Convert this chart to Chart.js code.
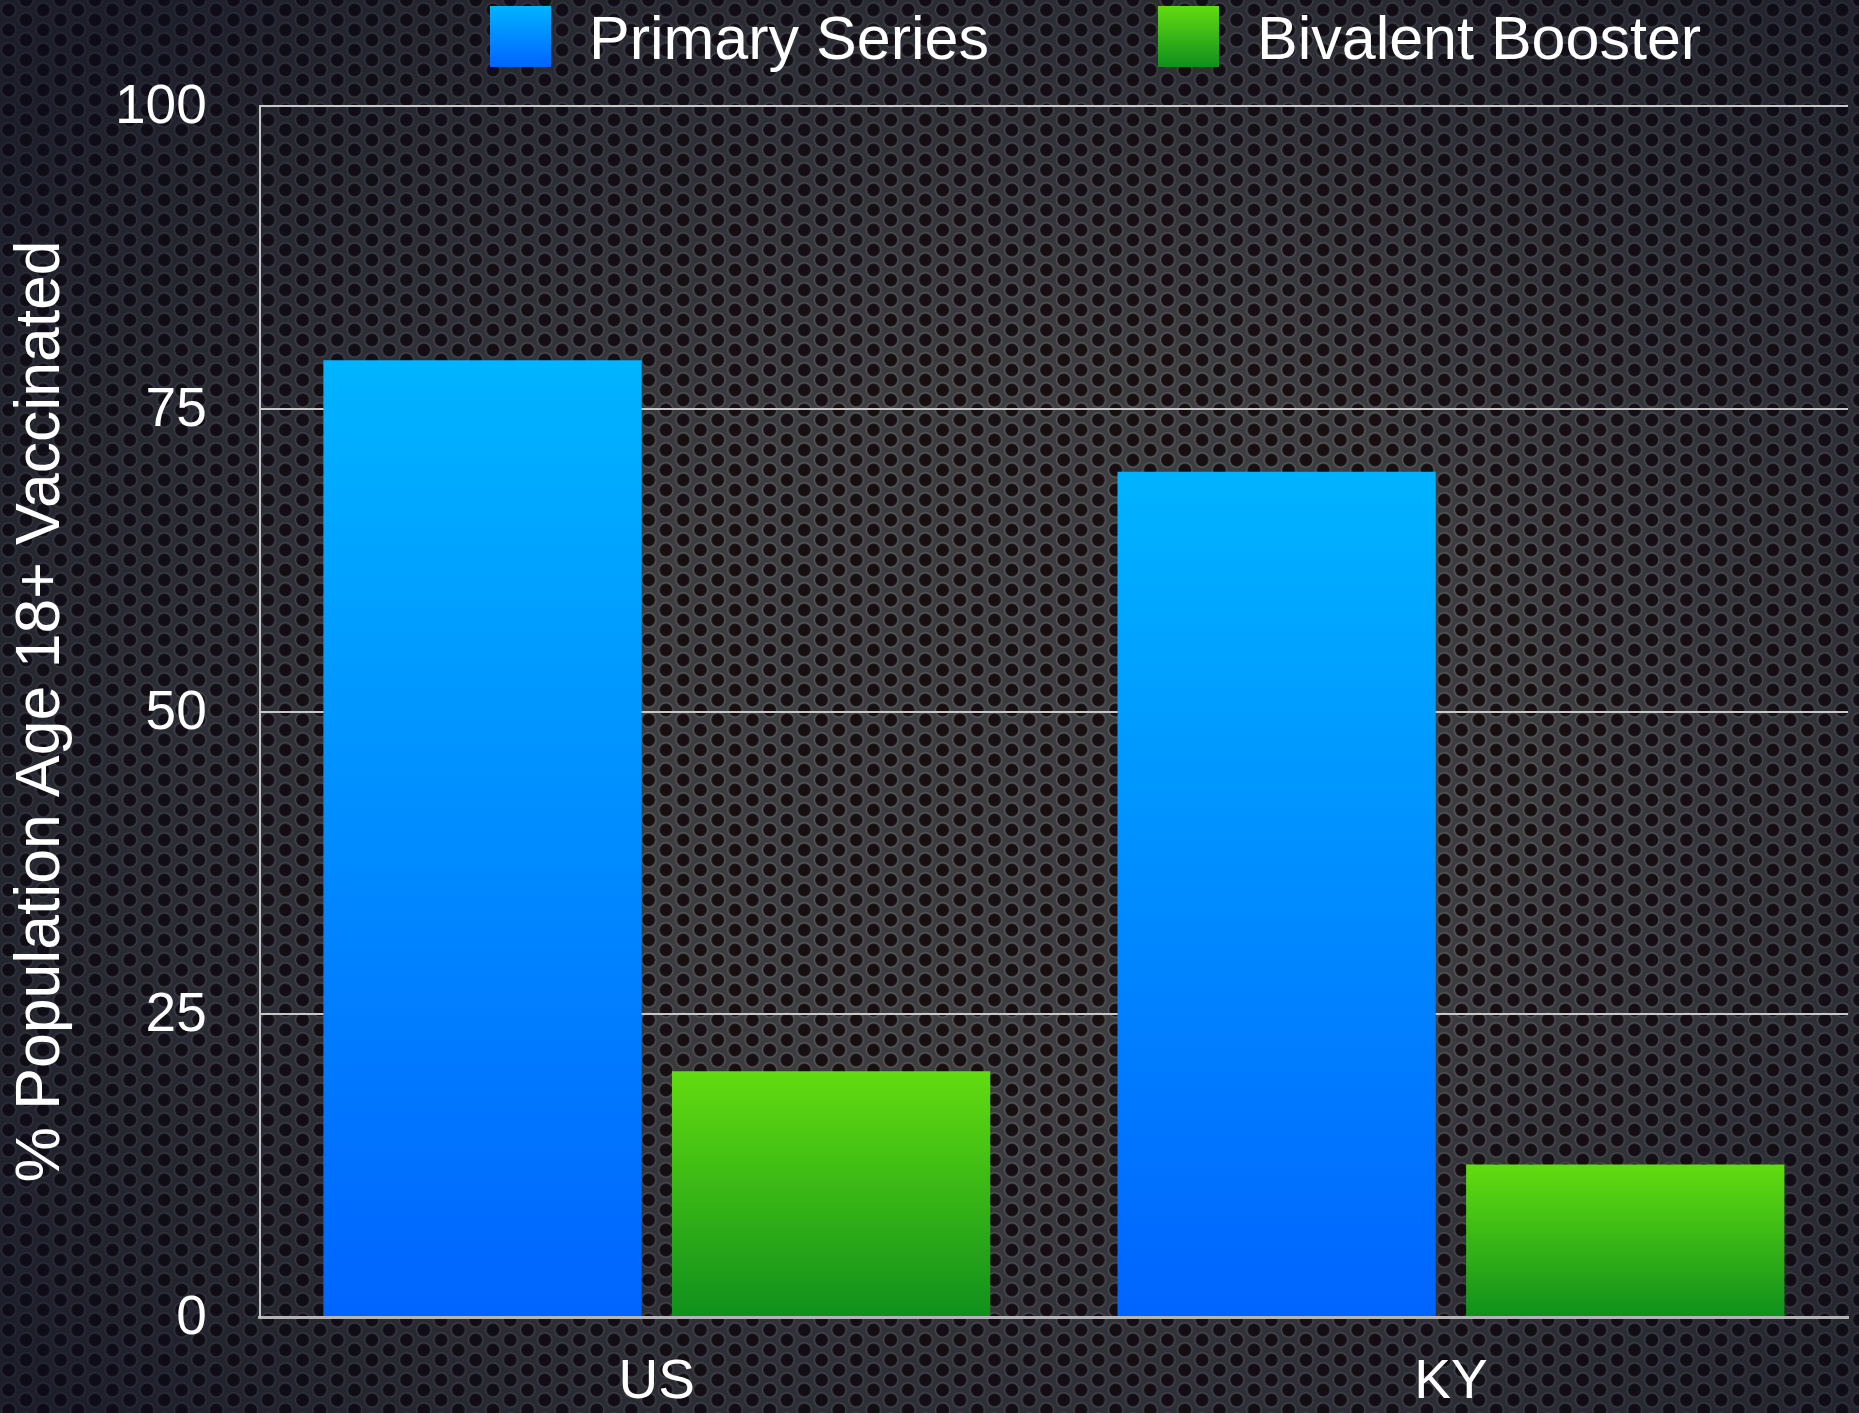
<!DOCTYPE html>
<html>
<head>
<meta charset="utf-8">
<script src="https://cdn.jsdelivr.net/npm/chart.js@4"></script>
<style>
    html, body {
        margin: 0;
        padding: 0;
        width: 1859px;
        height: 1413px;
        overflow: hidden;
    }
    body {
        background-color: #3c3d40;
        background-image:
            radial-gradient(ellipse 70% 75% at 58% 52%, rgba(8, 10, 28, 0) 35%, rgba(8, 10, 28, 0.62) 100%),
            radial-gradient(circle at 8.65px 10px, #170e10 0, #170e10 5.4px, #242022 6.1px, #5c5d61 7.1px, #46474a 8px, rgba(0, 0, 0, 0) 8.7px),
            radial-gradient(circle at 8.65px 10px, #170e10 0, #170e10 5.4px, #242022 6.1px, #5c5d61 7.1px, #46474a 8px, rgba(0, 0, 0, 0) 8.7px);
        background-size: 100% 100%, 34.6px 20px, 34.6px 20px;
        background-position: 0 0, 0 0, 17.3px 10px;
        font-family: "Liberation Sans", Arial, Helvetica, sans-serif;
    }
    #wrap {
        position: absolute;
        left: 0;
        top: 0;
        width: 1859px;
        height: 1413px;
    }
    #legend {
        position: absolute;
        top: 6px;
        left: 490px;
        display: flex;
        align-items: center;
        color: #fff;
        font-size: 61px;
        line-height: 61px;
    }
    .item {
        display: flex;
        align-items: center;
        margin-right: 169px;
        white-space: nowrap;
    }
    .item span:last-child {
        position: relative;
        top: 2px;
    }
    .box {
        width: 61px;
        height: 61px;
        margin-right: 38px;
    }
</style>
</head>
<body>
<div id="wrap"><canvas id="chart1"></canvas></div>
<div id="legend"></div>
<script>
const categories = ['US', 'KY'];
const seriesNames = ['Primary Series', 'Bivalent Booster'];
const primarySeries = [79.0, 69.8];
const bivalentBooster = [20.3, 12.6];
const yTicks = [0, 25, 50, 75, 100];
const topColors = ['#00b4ff', '#62dc10'];
const bottomColors = ['#0064ff', '#0f901c'];
const yTitle = '% Population Age 18+ Vaccinated';

const FONT = '"Liberation Sans", Arial, Helvetica, sans-serif';

function barGradient(top, bottom) {
    return (ctx) => {
        const chart = ctx.chart;
        const y = chart.scales.y;
        if (!chart.chartArea || !y || ctx.raw == null) {
            return bottom;
        }
        const yTop = y.getPixelForValue(ctx.raw);
        const yBase = y.getPixelForValue(0);
        const g = chart.ctx.createLinearGradient(0, yTop, 0, yBase);
        g.addColorStop(0, top);
        g.addColorStop(1, bottom);
        return g;
    };
}

function createBarChart(chartId) {
    const ctx = document.getElementById(chartId).getContext('2d');
    return new Chart(ctx, {
        type: 'bar',
        data: {
            labels: categories,
            datasets: [
                {
                    label: seriesNames[0],
                    data: primarySeries,
                    backgroundColor: barGradient(topColors[0], bottomColors[0]),
                    borderWidth: 0
                },
                {
                    label: seriesNames[1],
                    data: bivalentBooster,
                    backgroundColor: barGradient(topColors[1], bottomColors[1]),
                    borderWidth: 0
                }
            ]
        },
        options: {
            responsive: true,
            maintainAspectRatio: false,
            animation: false,
            categoryPercentage: 0.878,
            barPercentage: 0.913,
            layout: {
                padding: { top: 106, right: 11, bottom: 0, left: 0 }
            },
            plugins: {
                legend: { display: false },
                tooltip: { enabled: false }
            },
            scales: {
                x: {
                    grid: {
                        display: false,
                        drawTicks: true,
                        tickLength: 35,
                        tickColor: 'rgba(0,0,0,0)'
                    },
                    border: { display: true, color: '#b4b4b4', width: 3 },
                    ticks: {
                        color: '#ffffff',
                        padding: 3,
                        font: { family: FONT, size: 55, lineHeight: 1 }
                    }
                },
                y: {
                    min: 0,
                    max: 100,
                    afterBuildTicks: (axis) => {
                        axis.ticks = yTicks.map(v => ({ value: v }));
                    },
                    grid: {
                        color: '#c8c8c8',
                        lineWidth: 2,
                        drawTicks: true,
                        tickLength: 53,
                        tickColor: 'rgba(0,0,0,0)'
                    },
                    border: { display: true, color: '#c8c8c8', width: 2 },
                    ticks: {
                        color: '#ffffff',
                        padding: 0,
                        labelOffset: 2,
                        font: { family: FONT, size: 55 }
                    },
                    title: {
                        display: true,
                        text: yTitle,
                        color: '#ffffff',
                        font: { family: FONT, size: 62.5, lineHeight: 1.2 },
                        padding: { top: 4, bottom: 36 }
                    }
                }
            }
        }
    });
}

function buildLegend(chart) {
    const legend = document.getElementById('legend');
    chart.data.datasets.forEach((ds, i) => {
        const item = document.createElement('div');
        item.className = 'item';
        const box = document.createElement('span');
        box.className = 'box';
        box.style.background = `linear-gradient(${topColors[i]}, ${bottomColors[i]})`;
        const text = document.createElement('span');
        text.textContent = ds.label;
        item.appendChild(box);
        item.appendChild(text);
        legend.appendChild(item);
    });
}

const chart = createBarChart('chart1');
buildLegend(chart);
</script>
</body>
</html>
